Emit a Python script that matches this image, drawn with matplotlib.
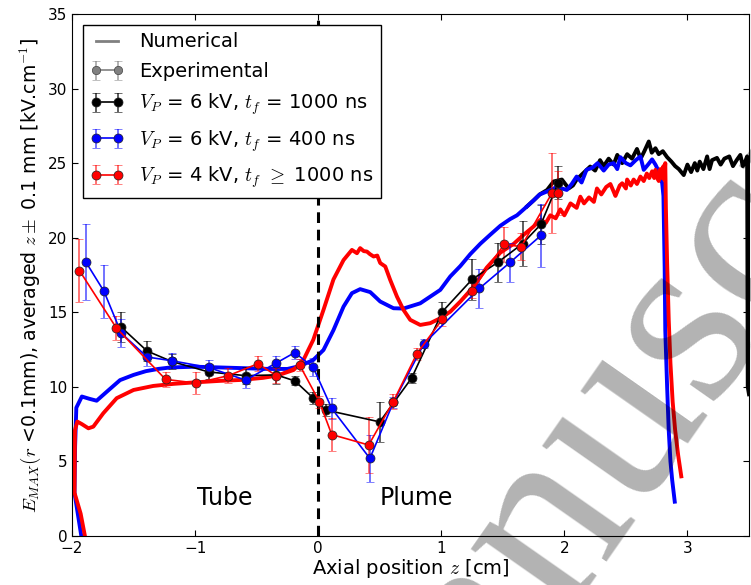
import numpy as np
import matplotlib
matplotlib.use("Agg")
import matplotlib.pyplot as plt

plt.rcParams['mathtext.fontset'] = 'cm'
plt.rcParams['xtick.direction'] = 'in'
plt.rcParams['ytick.direction'] = 'in'
plt.rcParams['xtick.top'] = True
plt.rcParams['ytick.right'] = True
plt.rcParams['xtick.major.size'] = 4.5
plt.rcParams['ytick.major.size'] = 4.5

# experimental points (z [cm], E [kV/cm], error)
exp_6kv_1000_z = [-1.60, -1.39, -1.19, -0.89, -0.59, -0.34, -0.19, -0.04, 0.06, 0.50, 0.76, 1.01, 1.25, 1.46, 1.66, 1.81, 1.95]
exp_6kv_1000_E = [14.0, 12.4, 11.7, 11.0, 10.75, 10.8, 10.4, 9.25, 8.45, 7.65, 10.6, 15.05, 17.2, 18.35, 19.6, 20.9, 23.7]
exp_6kv_1000_err = [1.0, 0.65, 0.5, 0.5, 0.55, 0.6, 0.3, 0.4, 0.4, 1.35, 0.35, 0.65, 1.35, 1.3, 1.5, 1.3, 1.1]

exp_6kv_400_z = [-1.89, -1.74, -1.60, -1.39, -1.19, -0.89, -0.59, -0.34, -0.19, -0.04, 0.11, 0.42, 0.61, 0.86, 1.31, 1.56, 1.81]
exp_6kv_400_E = [18.4, 16.4, 13.6, 12.0, 11.75, 11.3, 10.45, 11.6, 12.3, 11.3, 8.55, 5.2, 8.95, 12.9, 16.6, 18.35, 20.15]
exp_6kv_400_err = [2.55, 1.8, 0.95, 0.6, 0.5, 0.5, 0.5, 0.5, 0.45, 0.6, 0.7, 1.6, 0.4, 0.3, 1.3, 1.3, 2.1]

exp_4kv_z = [-1.94, -1.64, -1.24, -0.99, -0.73, -0.49, -0.34, -0.15, 0.01, 0.11, 0.41, 0.61, 0.80, 1.01, 1.25, 1.51, 1.65, 1.90, 1.95]
exp_4kv_E = [17.8, 13.95, 10.5, 10.25, 10.75, 11.55, 10.75, 11.45, 9.0, 6.8, 6.1, 9.0, 12.2, 14.55, 16.45, 19.55, 19.4, 23.0, 23.0]
exp_4kv_err = [2.1, 0.8, 0.5, 0.75, 0.5, 0.5, 0.5, 0.4, 0.4, 1.1, 1.9, 0.5, 0.4, 0.5, 0.5, 1.2, 0.9, 2.7, 1.5]

# numerical curves
num_6kv_400_z = [-1.915, -1.98, -1.975, -1.965, -1.92, -1.86, -1.80, -1.70, -1.61, -1.50, -1.40, -1.30, -1.20,
                 -1.0, -0.8, -0.6, -0.4, -0.25, -0.146, -0.04, 0.043, 0.124, 0.206, 0.274, 0.341, 0.423, 0.504,
                 0.612, 0.693, 0.829, 0.992, 1.073, 1.155, 1.236, 1.318, 1.398, 1.48, 1.56, 1.615, 1.697, 1.75,
                 1.80, 1.86, 1.94, 2.02, 2.06, 2.10, 2.14, 2.18, 2.23, 2.27, 2.32, 2.36, 2.40, 2.43, 2.455, 2.50,
                 2.537, 2.58, 2.618, 2.645, 2.68, 2.713, 2.74, 2.767, 2.795, 2.805, 2.815, 2.82, 2.835, 2.848,
                 2.862, 2.876, 2.897]
num_6kv_400_E = [-0.5, 2.9, 6.0, 8.6, 9.35, 9.2, 9.07, 9.8, 10.45, 10.8, 11.05, 11.2, 11.3,
                 11.35, 11.3, 11.25, 11.2, 11.2, 11.4, 11.8, 12.47, 13.8, 15.38, 16.28, 16.55, 16.35, 15.72,
                 15.27, 15.25, 15.6, 16.5, 17.4, 18.1, 18.9, 19.6, 20.2, 20.8, 21.25, 21.5, 22.1, 22.5,
                 22.9, 23.1, 23.4, 23.2, 23.6, 24.1, 23.7, 24.55, 24.7, 25.0, 24.5, 24.9, 25.0, 24.6, 25.4, 25.0,
                 24.85, 25.2, 25.45, 24.55, 24.9, 25.25, 24.9, 24.45, 23.65, 22.8, 18.0, 13.8, 10.0, 7.1,
                 5.0, 3.76, 2.3]

num_4kv_z = [-1.886, -1.93, -1.98, -1.978, -1.976, -1.957, -1.92, -1.867, -1.827, -1.746, -1.637, -1.50, -1.34,
             -1.176, -1.0, -0.8, -0.634, -0.45, -0.336, -0.2, -0.12, -0.04, 0.043, 0.124, 0.206, 0.274, 0.315,
             0.341, 0.37, 0.396, 0.42, 0.45, 0.48, 0.504, 0.545, 0.585, 0.64, 0.693, 0.748, 0.829, 0.911, 0.992,
             1.073, 1.155, 1.25, 1.37, 1.48, 1.59, 1.67, 1.75, 1.805, 1.85, 1.886, 1.93, 1.967, 2.0, 2.05, 2.10,
             2.13, 2.16, 2.20, 2.24, 2.265, 2.30, 2.34, 2.374, 2.40, 2.415, 2.45, 2.47, 2.50, 2.51, 2.54, 2.563,
             2.59, 2.618, 2.645, 2.67, 2.69, 2.713, 2.73, 2.74, 2.755, 2.767, 2.78, 2.795, 2.805, 2.81, 2.82,
             2.825, 2.835, 2.848, 2.862, 2.88, 2.90, 2.925, 2.95]
num_4kv_E = [-0.4, 1.5, 2.9, 5.0, 7.1, 7.67, 7.5, 7.22, 7.33, 8.23, 9.24, 9.79, 10.06,
             10.2, 10.3, 10.4, 10.46, 10.6, 10.75, 11.13, 11.8, 13.15, 15.16, 17.2, 18.5, 19.18, 18.96,
             19.3, 19.1, 19.07, 18.9, 18.74, 18.8, 18.3, 18.07, 17.17, 16.05, 15.16, 14.49, 14.15, 14.27, 14.6,
             15.04, 15.72, 16.6, 18.0, 19.0, 19.6, 20.2, 20.75, 21.2, 21.0, 21.5, 21.3, 21.9, 21.5, 22.3, 22.0,
             22.75, 22.3, 22.7, 22.4, 23.3, 22.9, 23.4, 23.6, 23.1, 22.8, 23.5, 23.65, 23.3, 23.9, 23.5, 23.9,
             23.6, 24.1, 23.8, 24.3, 24.0, 24.45, 24.0, 24.55, 24.0, 23.8, 24.6, 24.0, 24.8, 23.9, 25.0,
             22.0, 18.3, 14.5, 11.58, 9.0, 7.1, 5.4, 4.0]

num_6kv_1000_z = [1.697, 1.75, 1.80, 1.86, 1.913, 1.98, 2.035, 2.07, 2.10, 2.15, 2.21, 2.25, 2.29, 2.32, 2.36,
                  2.40, 2.43, 2.47, 2.51, 2.55, 2.59, 2.62, 2.65, 2.686, 2.71, 2.74, 2.767, 2.80, 2.835, 2.87,
                  2.90, 2.93, 2.97, 3.0, 3.03, 3.06, 3.08, 3.10, 3.13, 3.16, 3.18, 3.20, 3.24, 3.27, 3.30, 3.34,
                  3.37, 3.40, 3.43, 3.45, 3.47, 3.485, 3.487, 3.49, 3.50]
num_6kv_1000_E = [22.1, 22.5, 22.9, 23.2, 23.77, 23.9, 23.3, 23.5, 23.9, 24.3, 24.77, 24.5, 25.2, 24.8, 25.3,
                  24.9, 25.55, 25.0, 25.6, 25.3, 25.95, 25.3, 25.8, 26.45, 25.7, 26.0, 25.6, 25.8, 25.4, 25.1,
                  24.8, 24.6, 24.2, 24.9, 24.4, 25.0, 24.5, 25.1, 24.6, 25.45, 24.6, 25.2, 25.35, 24.9, 25.3, 25.45,
                  24.8, 25.2, 25.55, 24.8, 25.1, 25.45, 20.0, 10.0, 9.5]

fig = plt.figure(figsize=(7.51, 5.85), dpi=100)
ax = fig.add_axes([0.0959, 0.0838, 0.9014, 0.8923])

ax.plot(num_6kv_1000_z, num_6kv_1000_E, color='k', lw=2.8, zorder=2)
ax.plot(num_6kv_400_z, num_6kv_400_E, color='b', lw=2.8, zorder=2)
ax.plot(num_4kv_z, num_4kv_E, color='r', lw=2.8, zorder=2)

ax.axvline(0, color='k', lw=2.2, linestyle=(0, (3.5, 2.2)), zorder=3)

# legend proxies
ax.plot([], [], color='gray', lw=2, label='Numerical')
ax.errorbar([np.nan], [np.nan], yerr=[np.nan], color='gray', marker='o', ms=6, lw=1.2,
            mec='#444444', mew=0.5, ecolor=(0.5, 0.5, 0.5, 0.7), capsize=3, label='Experimental')

series = [
    (exp_6kv_1000_z, exp_6kv_1000_E, exp_6kv_1000_err, 'k', (0, 0, 0, 0.8),
     r'$V_P$ = 6 kV, $t_f$ = 1000 ns'),
    (exp_6kv_400_z, exp_6kv_400_E, exp_6kv_400_err, 'b', (0, 0, 1, 0.7),
     r'$V_P$ = 6 kV, $t_f$ = 400 ns'),
    (exp_4kv_z, exp_4kv_E, exp_4kv_err, 'r', (1, 0, 0, 0.7),
     r'$V_P$ = 4 kV, $t_f$ $\geq$ 1000 ns'),
]
for z, E, err, c, ec, lab in series:
    ax.errorbar(z, E, yerr=err, color=c, marker='o', ms=6.5, lw=1.2, mec='#222222', mew=0.5,
                ecolor=ec, elinewidth=1.1, capsize=3, label=lab, zorder=4)

ax.text(-0.756, 2.55, 'Tube', fontsize=17, ha='center', va='center')
ax.text(0.80, 2.55, 'Plume', fontsize=17, ha='center', va='center')

ax.set_xlim(-2, 3.5)
ax.set_ylim(0, 35)
ax.set_xticks([-2, -1, 0, 1, 2, 3])
ax.set_yticks(np.arange(0, 36, 5))
ax.tick_params(labelsize=11)
ax.set_xlabel(r'Axial position $z$ [cm]', fontsize=14, labelpad=1)
ax.set_ylabel(r'$E_{MAX}(r$ <0.1mm), averaged $z\pm$ 0.1 mm [kV.cm$^{-1}$]', fontsize=13.6, labelpad=3)

leg = ax.legend(loc='upper left', fontsize=14, numpoints=2, handlelength=1.7, fancybox=False,
                framealpha=1, borderaxespad=0.55, labelspacing=0.55)
leg.get_frame().set_edgecolor('k')
leg.get_frame().set_linewidth(1.0)

# watermark
fig.text(0.488, -0.527, 'Manuscript', fontsize=184, family='Liberation Serif',
         color='k', alpha=0.3, rotation=55, rotation_mode='anchor', ha='left', va='baseline', zorder=10)

fig.savefig('out.png', dpi=100)
